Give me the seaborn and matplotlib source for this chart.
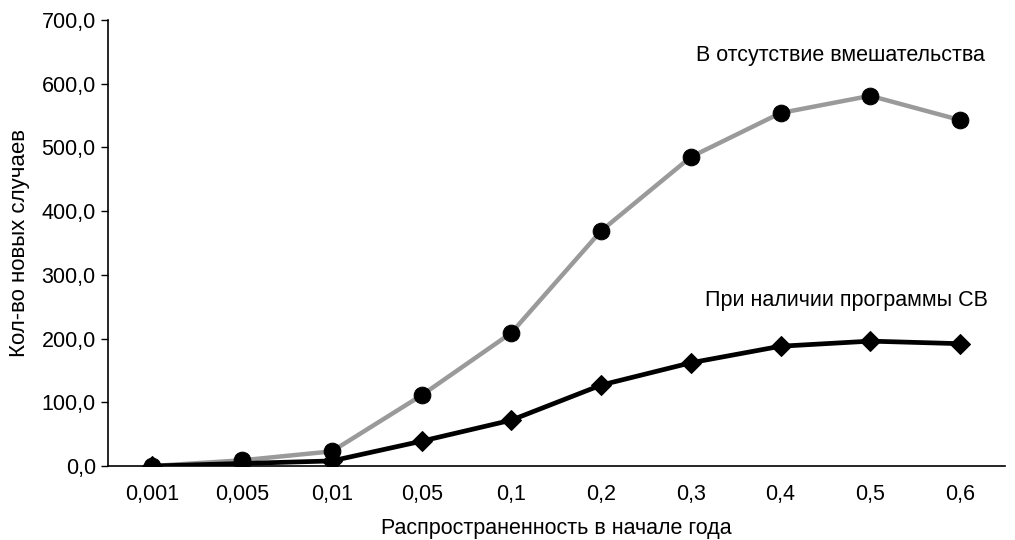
import matplotlib
matplotlib.use("Agg")
import matplotlib.pyplot as plt
import pandas as pd
import seaborn as sns
from matplotlib.ticker import FixedLocator, FuncFormatter

categories = ["0,001", "0,005", "0,01", "0,05", "0,1", "0,2", "0,3", "0,4", "0,5", "0,6"]
no_intervention = [0, 9, 23, 111, 209, 369, 485, 554, 581, 543]
with_program = [0, 4, 8, 39, 72, 127, 162, 188, 196, 192]

label_none = "В отсутствие вмешательства"
label_prog = "При наличии программы СВ"

df = pd.DataFrame({
    "x": categories * 2,
    "y": no_intervention + with_program,
    "series": [label_none] * len(categories) + [label_prog] * len(categories),
})

sns.set_style("white")
plt.rcParams["font.family"] = ["Liberation Sans", "DejaVu Sans"]
plt.rcParams["text.color"] = "black"
plt.rcParams["axes.labelcolor"] = "black"
plt.rcParams["xtick.color"] = "black"
plt.rcParams["ytick.color"] = "black"
fs = 15.5

fig, ax = plt.subplots(figsize=(10.15, 5.4), dpi=100)
fig.subplots_adjust(left=0.106, right=0.990, top=0.963, bottom=0.137)

sns.lineplot(df[df["series"] == label_none], x="x", y="y", ax=ax,
             color="#9a9a9a", lw=3.2, marker="o", markersize=12,
             markerfacecolor="black", markeredgecolor="black", zorder=3)
sns.lineplot(df[df["series"] == label_prog], x="x", y="y", ax=ax,
             color="black", lw=3.4, marker="D", markersize=10.5,
             markerfacecolor="black", markeredgecolor="black", zorder=4)

ax.set_xlim(-0.5, len(categories) - 0.5)
ax.set_ylim(0, 700)
ax.set_yticks(range(0, 701, 100))
ax.yaxis.set_major_formatter(FuncFormatter(lambda v, p: f"{v:.1f}".replace(".", ",")))
ax.set_xticks(range(len(categories)))
ax.set_xticklabels(categories)
ax.xaxis.set_minor_locator(FixedLocator([i + 0.5 for i in range(-1, len(categories))]))
ax.tick_params(axis="x", which="major", length=0, pad=13, labelsize=fs, labelcolor="black")
ax.tick_params(axis="x", which="minor", length=5, width=1, direction="out", color="black")
ax.tick_params(axis="y", length=5, width=1, direction="out", color="black",
               labelsize=fs, labelcolor="black", left=True)

for s in ["top", "right"]:
    ax.spines[s].set_visible(False)
for s in ["left", "bottom"]:
    ax.spines[s].set_color("black")
    ax.spines[s].set_linewidth(1.2)

ax.set_xlabel("Распространенность в начале года", fontsize=fs, labelpad=9, color="black")
ax.set_ylabel("Кол-во новых случаев", fontsize=16, labelpad=8, color="black")

ax.text(9.28, 645, label_none, ha="right", va="center", fontsize=fs, color="black")
ax.text(9.31, 260, label_prog, ha="right", va="center", fontsize=fs, color="black")

fig.savefig("out.png", dpi=100)
